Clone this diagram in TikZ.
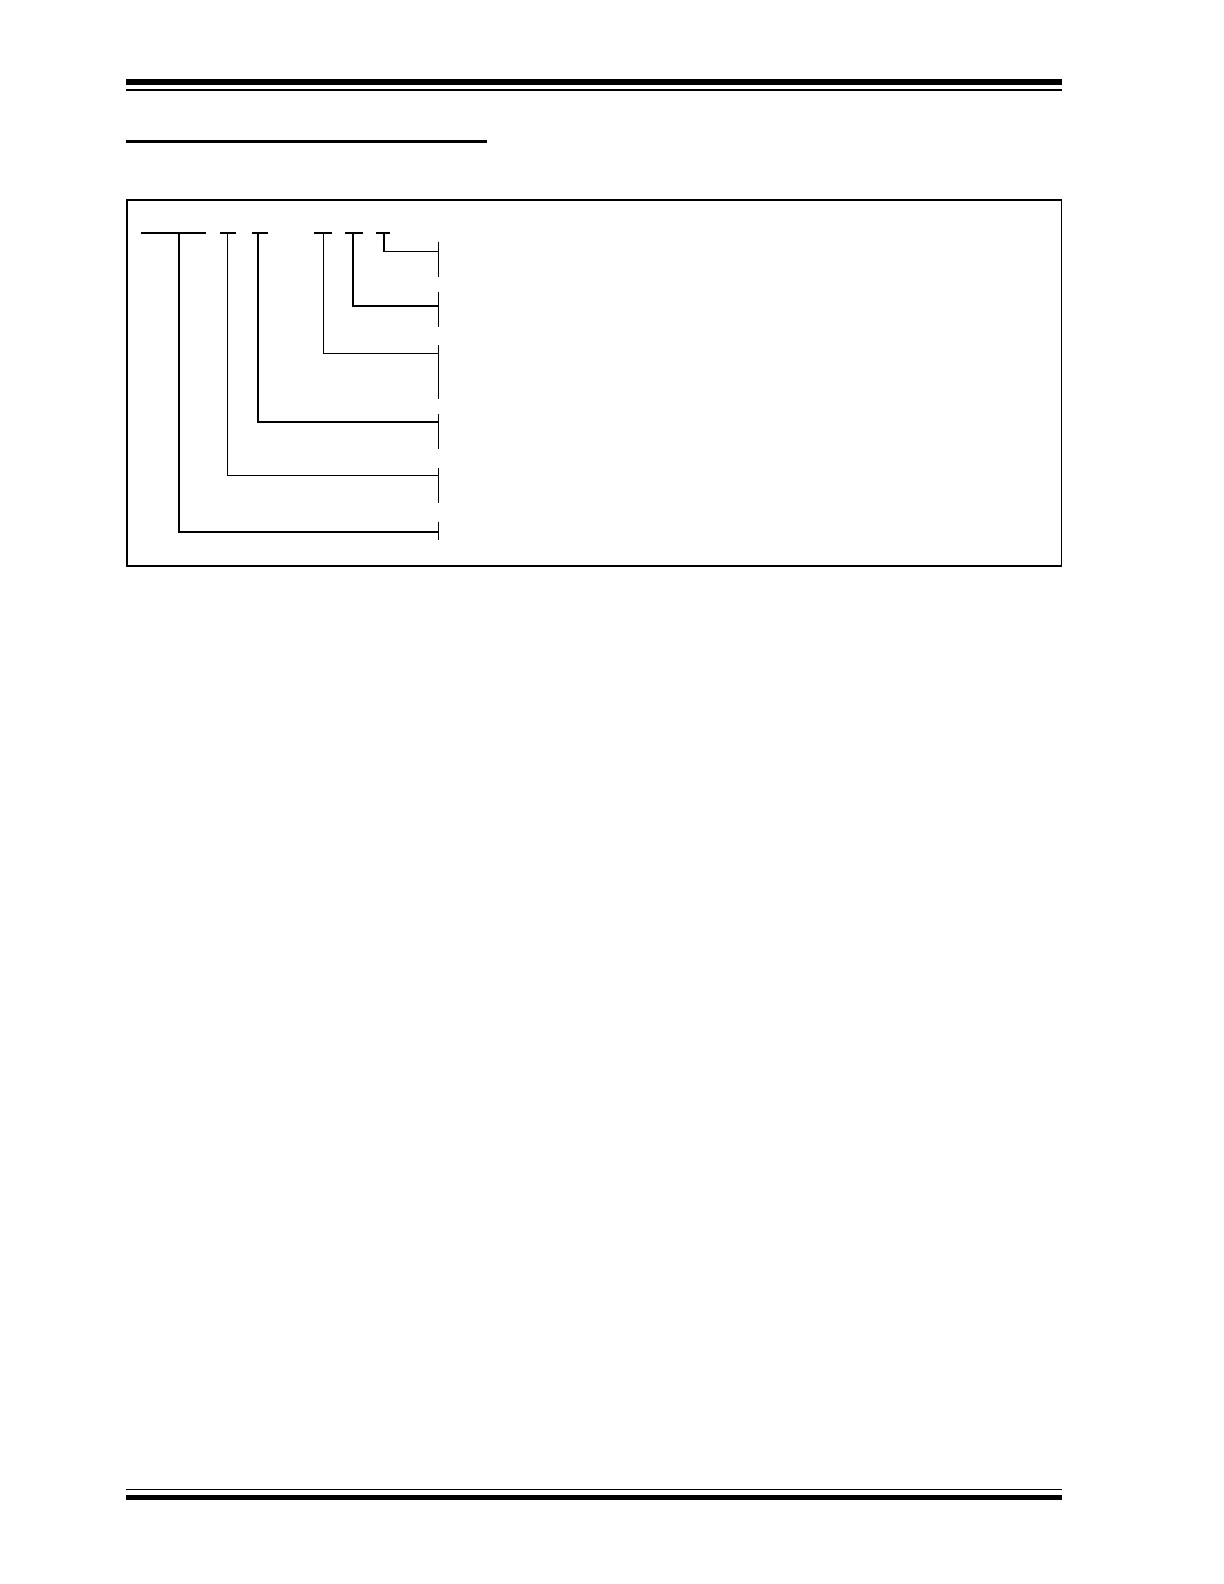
\documentclass[tikz,border=0pt]{standalone}
\begin{document}
\begin{tikzpicture}[x=0.5pt,y=-0.5pt,
  seg/.style={line width=1pt},
  lead/.style={line width=0.9pt},
  thinlead/.style={line width=0.7pt},
  bar/.style={line width=0.6pt},
  frame/.style={line width=0.85pt}]
\useasboundingbox (0,0) rectangle (1224,1584);
% header rules
\fill (126,79) rectangle (1062,85);
\draw[line width=0.75pt] (126,89.8) -- (1062,89.8);
\fill (126,140) rectangle (486.7,142.7);
% frame
\draw[frame] (126.7,200) rectangle (1061.5,566);
% footer rules
\draw[line width=0.65pt] (126,1489.3) -- (1062,1489.3);
\fill (126,1494.5) rectangle (1062,1500);
% top field segments
\draw[seg] (140.7,232.5) -- (206,232.5);
\draw[seg] (220,232.5) -- (236,232.5);
\draw[seg] (252,232.5) -- (268,232.5);
\draw[seg] (314,232.5) -- (332,232.5);
\draw[seg] (345.3,232.5) -- (362.7,232.5);
\draw[seg] (376,232.5) -- (390,232.5);
\coordinate (t1) at (179.3,232.5);
\coordinate (t2) at (227.7,232.5);
\coordinate (t3) at (258.3,232.5);
\coordinate (t4) at (323.3,232.5);
\coordinate (t5) at (353.3,232.5);
\coordinate (t6) at (383.8,232.5);
% bars
\coordinate (b1) at (438.3,251.5);
\coordinate (b2) at (438.3,306);
\coordinate (b3) at (438.3,353.5);
\coordinate (b4) at (438.3,422);
\coordinate (b5) at (438.3,475.5);
\coordinate (b6) at (438.3,532);
\draw[bar] (438.3,241.7) -- (438.3,277.3);
\draw[bar] (438.3,291.7) -- (438.3,327.3);
\draw[bar] (438.3,345) -- (438.3,399.3);
\draw[bar] (438.3,414) -- (438.3,449.3);
\draw[bar] (438.3,467.8) -- (438.3,503.3);
\draw[bar] (438.3,522) -- (438.3,540);
% leads
\draw[lead] (t6) |- (b1);
\draw[lead] (t5) |- (b2);
\draw[thinlead] (t4) |- (b3);
\draw[lead] (t3) |- (b4);
\draw[thinlead] (t2) |- (b5);
\draw[lead] (t1) |- (b6);
\end{tikzpicture}
\end{document}
